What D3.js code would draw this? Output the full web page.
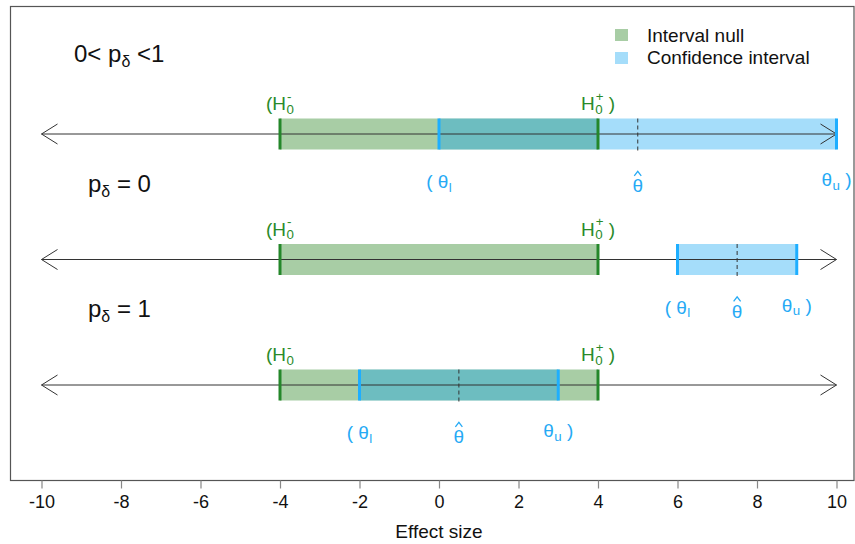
<!DOCTYPE html>
<html>
<head>
<meta charset="utf-8">
<script src="https://cdn.jsdelivr.net/npm/d3@7"></script>
<style>
  html, body { margin: 0; padding: 0; background: #fff; }
  svg { display: block; font-family: "Liberation Sans", Arial, sans-serif; }
</style>
</head>
<body>
<svg id="chart" width="855" height="544"></svg>
<script>
// ---- data ----
const xTicks = [-10, -8, -6, -4, -2, 0, 2, 4, 6, 8, 10];
const axisMin = -10, axisMax = 10;
const rowNames = ["0< p|δ| <1", "p|δ| = 0", "p|δ| = 1"];
const nullLower = [-4, -4, -4];
const nullUpper = [4, 4, 4];
const ciLower = [0, 6, -2];
const ciUpper = [10, 9, 3];
const estimates = [5, 7.5, 0.5];
const legendLabels = ["Interval null", "Confidence interval"];
const xTitle = "Effect size";

// ---- styles ----
const nullFill = "#a8cda5";
const ciFill = "#05a2f1", ciOpacity = 0.36;
const nullLine = "#24872a";
const ciLine = "#1eaeff";
const nullText = "#2a8a2a";
const ciText = "#26aaf5";
const NB = "\u00a0";

const svg = d3.select("#chart");
const box = { left: 10.5, top: 6.5, right: 854, bottom: 480.5 };

const x = d3.scaleLinear().domain([axisMin, axisMax]).range([41.5, 836.5]);
const y = d3.scaleLinear().domain([0, rowNames.length - 1]).range([134, 385]);
const barH = 31;

// plot frame
svg.append("rect")
  .attr("x", box.left).attr("y", box.top)
  .attr("width", box.right - box.left).attr("height", box.bottom - box.top)
  .attr("fill", "none").attr("stroke", "#555").attr("stroke-width", 1.2);

// x axis (ticks hang below the frame)
const axis = svg.append("g")
  .attr("transform", `translate(0,${box.bottom})`)
  .call(d3.axisBottom(x).tickValues(xTicks).tickSize(8).tickFormat(d3.format("d")));
axis.select(".domain").remove();
axis.selectAll(".tick line").attr("stroke", "#888").attr("stroke-width", 1.2);
axis.selectAll(".tick text")
  .attr("y", 27.5).attr("dy", null)
  .attr("font-size", 18).attr("fill", "#111")
  .attr("font-family", "Liberation Sans, Arial, sans-serif")
  .text(d => d < 0 ? "-" + Math.abs(d) : d);

svg.append("text")
  .attr("x", x(0)).attr("y", 538)
  .attr("text-anchor", "middle").attr("font-size", 19).attr("fill", "#111")
  .text(xTitle);

// Builds a label out of pieces that may carry a subscript and/or superscript,
// then centres the whole label on cx.
function richLabel(parent, parts, cx, baseY, size, color) {
  const g = parent.append("g").attr("fill", color);
  let cursor = 0;
  const small = size * 0.7;
  parts.forEach(p => {
    const t = g.append("text").attr("x", cursor).attr("y", 0)
      .attr("font-size", size).text(p.t);
    cursor += t.node().getComputedTextLength();
    let w = 0;
    if (p.sub) {
      const s = g.append("text").attr("x", cursor + 0.5).attr("y", size * 0.2)
        .attr("font-size", small).text(p.sub);
      w = Math.max(w, s.node().getComputedTextLength() + 0.5);
    }
    if (p.sup) {
      const s = g.append("text").attr("x", cursor + 1).attr("y", -size * 0.5)
        .attr("font-size", small).text(p.sup);
      w = Math.max(w, s.node().getComputedTextLength() + 1);
    }
    cursor += w;
  });
  g.attr("transform", `translate(${cx - cursor / 2},${baseY})`);
  return g;
}

// theta with a small circumflex accent drawn above it
function thetaHat(parent, cx, baseY, size, color) {
  parent.append("text").attr("fill", color).attr("text-anchor", "middle")
    .attr("x", cx).attr("y", baseY).attr("font-size", size).text("θ");
  const top = baseY - size * 0.93 - 3;
  parent.append("path")
    .attr("d", `M${cx - 3.5},${top + 4.5}L${cx},${top}L${cx + 3.5},${top + 4.5}`)
    .attr("fill", "none").attr("stroke", color).attr("stroke-width", 1.3);
}

const rowLabelPos = [[74, 62], [88, 192], [88, 317]];

rowNames.forEach((name, i) => {
  const cy = y(i);
  const row = svg.append("g");

  // interval null and confidence interval bands
  row.append("rect")
    .attr("x", x(nullLower[i])).attr("y", cy - barH / 2)
    .attr("width", x(nullUpper[i]) - x(nullLower[i])).attr("height", barH)
    .attr("fill", nullFill);
  row.append("rect")
    .attr("x", x(ciLower[i])).attr("y", cy - barH / 2)
    .attr("width", x(ciUpper[i]) - x(ciLower[i])).attr("height", barH)
    .attr("fill", ciFill).attr("fill-opacity", ciOpacity);

  // number line with open arrowheads
  row.append("line")
    .attr("x1", x(axisMin)).attr("x2", x(axisMax))
    .attr("y1", cy).attr("y2", cy)
    .attr("stroke", "#333").attr("stroke-width", 1);
  const xl = x(axisMin), xr = x(axisMax);
  row.append("path")
    .attr("d", `M${xl + 16},${cy - 10}L${xl},${cy}L${xl + 16},${cy + 10}`)
    .attr("fill", "none").attr("stroke", "#333").attr("stroke-width", 1);
  row.append("path")
    .attr("d", `M${xr - 16},${cy - 10}L${xr},${cy}L${xr - 16},${cy + 10}`)
    .attr("fill", "none").attr("stroke", "#333").attr("stroke-width", 1);

  // point estimate
  row.append("line")
    .attr("x1", x(estimates[i])).attr("x2", x(estimates[i]))
    .attr("y1", cy - barH / 2).attr("y2", cy + barH / 2 + 1)
    .attr("stroke", "#333").attr("stroke-width", 1).attr("stroke-dasharray", "4,3");

  // bounds
  [nullLower[i], nullUpper[i]].forEach(v => {
    row.append("line").attr("x1", x(v)).attr("x2", x(v))
      .attr("y1", cy - barH / 2).attr("y2", cy + barH / 2)
      .attr("stroke", nullLine).attr("stroke-width", 3);
  });
  [ciLower[i], ciUpper[i]].forEach(v => {
    row.append("line").attr("x1", x(v)).attr("x2", x(v))
      .attr("y1", cy - barH / 2).attr("y2", cy + barH / 2)
      .attr("stroke", ciLine).attr("stroke-width", 3);
  });

  // bound labels
  richLabel(row, [{ t: "(" }, { t: "H", sub: "0", sup: "-" }], x(nullLower[i]), cy - 24, 19, nullText);
  richLabel(row, [{ t: "H", sub: "0", sup: "+" }, { t: NB + ")" }], x(nullUpper[i]), cy - 24, 19, nullText);
  richLabel(row, [{ t: "(" + NB }, { t: "θ", sub: "l" }], x(ciLower[i]), cy + 54, 19, ciText);
  richLabel(row, [{ t: "θ", sub: "u" }, { t: NB + ")" }], x(ciUpper[i]), cy + 52, 19, ciText);
  thetaHat(row, x(estimates[i]), cy + 58, 19, ciText);

  // row caption, "a|b|c" puts b as a subscript
  const [pre, sub, post] = name.split("|");
  const cap = svg.append("text")
    .attr("x", rowLabelPos[i][0]).attr("y", rowLabelPos[i][1])
    .attr("font-size", 24).attr("fill", "#111");
  cap.append("tspan").text(pre);
  cap.append("tspan").attr("font-size", 16).attr("dy", 5).text(sub);
  cap.append("tspan").attr("dy", -5).text(post);
});

// legend
const legend = svg.append("g");
[{ fill: nullFill, op: 1 }, { fill: ciFill, op: ciOpacity }].forEach((s, i) => {
  legend.append("rect")
    .attr("x", 615).attr("y", 29 + i * 23).attr("width", 13).attr("height", 12)
    .attr("fill", s.fill).attr("fill-opacity", s.op);
  legend.append("text")
    .attr("x", 647).attr("y", 42 + i * 22)
    .attr("font-size", 19).attr("fill", "#111")
    .text(legendLabels[i]);
});
</script>
</body>
</html>
